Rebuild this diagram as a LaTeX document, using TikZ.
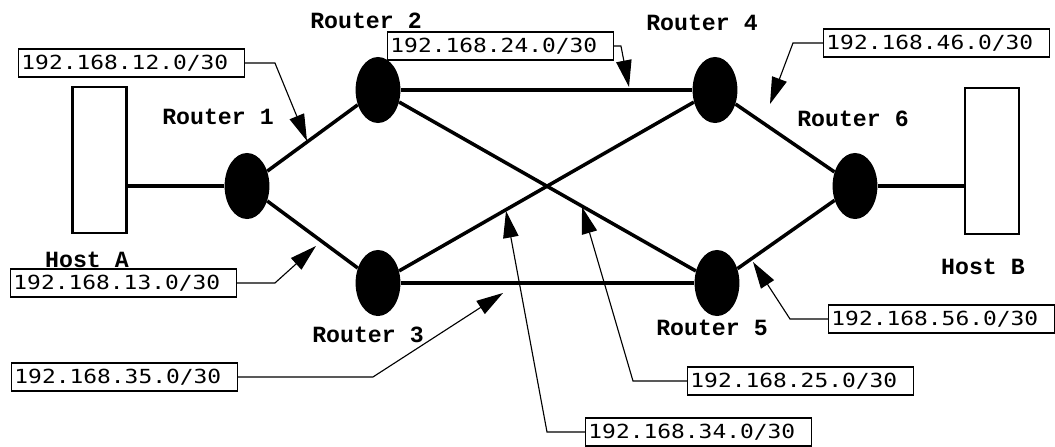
\documentclass[tikz,border=0pt]{standalone}
\usepackage{fontspec}
\usetikzlibrary{arrows.meta, shapes, positioning, calc}
\newfontfamily\ipfont[FakeStretch=1.18]{DejaVu Sans Mono}
\newfontfamily\rtfont{Liberation Mono}

\begin{document}
\begin{tikzpicture}[x=0.025cm, y=-0.025cm,
    router/.style={ellipse, fill=black, minimum width=1.12cm, minimum height=1.65cm, inner sep=0pt},
    host/.style={draw, line width=2pt, minimum width=1.35cm, minimum height=3.65cm, inner sep=0pt},
    rname/.style={font=\rtfont\bfseries\fontsize{16.5}{18}\selectfont},
    netbox/.style={draw, line width=0.9pt, anchor=west, font=\ipfont\fontsize{13.8}{15}\selectfont, text width=5.5cm, align=left, inner xsep=2pt, inner ysep=0pt, minimum height=0.7cm},
    link/.style={line width=2.5pt},
    tag/.style={line width=0.8pt, -{Triangle[length=19pt, width=11pt]}}]
          \useasboundingbox (0,0) rectangle (1055,447);

          \node[host] (hosta) at (99.5,160) {};
          \node[host] (hostb) at (992,161) {};
          \node[router] (r1) at (247,186) {};
          \node[router] (r2) at (378,90) {};
          \node[router] (r3) at (378,283) {};
          \node[router] (r4) at (715,90) {};
          \node[router] (r5) at (717,283) {};
          \node[router] (r6) at (855,186) {};

          \node[rname] (nr1) at (218,117) {Router 1};
          \node[rname] (nr2) at (366,21) {Router 2};
          \node[rname] (nr3) at (368,335) {Router 3};
          \node[rname] (nr4) at (702,23) {Router 4};
          \node[rname] (nr5) at (712,328) {Router 5};
          \node[rname] (nr6) at (853,119) {Router 6};
          \node[rname] (nha) at (87,260) {Host A};
          \node[rname] (nhb) at (983,267) {Host B};

          \draw[link] (r1.west) -- (r1.west -| hosta.east);
          \draw[link] (r6.east) -- (r6.east -| hostb.west);
          \draw[link] (r1) -- (r2);
          \draw[link] (r1) -- (r3);
          \draw[link] (r2) -- (r4);
          \draw[link] (r3) -- (r5);
          \draw[link] (r2) -- (r5);
          \draw[link] (r3) -- (r4);
          \draw[link] (r4) -- (r6);
          \draw[link] (r5) -- (r6);

          \node[netbox] (l12) at (18,63) {192.168.12.0/30};
          \node[netbox] (l24) at (387,46) {192.168.24.0/30};
          \node[netbox] (l46) at (823,43) {192.168.46.0/30};
          \node[netbox] (l13) at (10,283) {192.168.13.0/30};
          \node[netbox] (l35) at (11,377) {192.168.35.0/30};
          \node[netbox] (l34) at (585,432) {192.168.34.0/30};
          \node[netbox] (l25) at (687,381) {192.168.25.0/30};
          \node[netbox] (l56) at (828,319) {192.168.56.0/30};

          \coordinate (t12) at (307,141);
          \coordinate (t24) at (629,87);
          \coordinate (t46) at (770,104);
          \coordinate (t13) at (316,246);
          \coordinate (t35) at (503,293);
          \coordinate (t34) at (506,211);
          \coordinate (t25) at (582,207);
          \coordinate (t56) at (753,262);

          \draw[tag] (l12.east) -- ++(30,0) -- (t12);
          \draw[tag] (l24.east) -- ++(7,0) -- (t24);
          \draw[tag] (l46.west) -- ++(-30,0) -- (t46);
          \draw[tag] (l13.east) -- ++(38,0) -- (t13);
          \draw[tag] (l35.east) -- ++(135,0) -- (t35);
          \draw[tag] (l34.west) -- ++(-38,0) -- (t34);
          \draw[tag] (l25.west) -- ++(-54,0) -- (t25);
          \draw[tag] (l56.west) -- ++(-38,0) -- (t56);
        \end{tikzpicture}
\end{document}
